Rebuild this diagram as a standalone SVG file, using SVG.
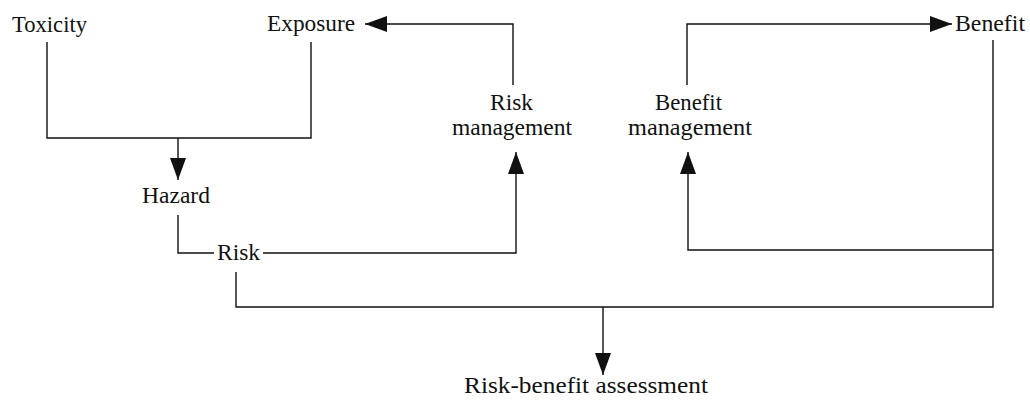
<svg xmlns="http://www.w3.org/2000/svg" width="1030" height="402" viewBox="0 0 1030 402">
<style>
text{font-family:"Liberation Serif","Times New Roman",serif;font-size:23px;fill:#111}
.c{fill:none;stroke:#111;stroke-width:1.4}
.a{marker-end:url(#ah)}
</style>
<defs>
<marker id="ah" markerUnits="userSpaceOnUse" viewBox="0 0 22 16" markerWidth="22" markerHeight="16" refX="22" refY="8" orient="auto">
<path d="M0,0 L22,8 L0,16 z" fill="#111"/>
</marker>
</defs>
<rect width="1030" height="402" fill="#fff"/>
<g id="connectors">
<path class="c" d="M47,42 V138 H311 V42"/>
<path class="c a" d="M178,138 V180"/>
<path class="c" d="M178,215 V253 H214"/>
<path class="c a" d="M263,253 H516 V152"/>
<path class="c a" d="M513,85 V24 H365"/>
<path class="c a" d="M687,85 V24 H952"/>
<path class="c" d="M993,40 V307 H236 V272"/>
<path class="c a" d="M993,250 H688 V152"/>
<path class="c a" d="M603,307 V375"/>
</g>
<g id="toxicity"><text x="12" y="32" textLength="75" lengthAdjust="spacingAndGlyphs">Toxicity</text></g>
<g id="exposure"><text x="267" y="31" textLength="88" lengthAdjust="spacingAndGlyphs">Exposure</text></g>
<g id="hazard"><text x="142" y="203" textLength="68" lengthAdjust="spacingAndGlyphs">Hazard</text></g>
<g id="risk"><text x="217" y="260" textLength="43" lengthAdjust="spacingAndGlyphs">Risk</text></g>
<g id="risk-management"><text x="490" y="110" textLength="43" lengthAdjust="spacingAndGlyphs">Risk</text><text x="452" y="135" textLength="120" lengthAdjust="spacingAndGlyphs">management</text></g>
<g id="benefit-management"><text x="655" y="110" textLength="67" lengthAdjust="spacingAndGlyphs">Benefit</text><text x="628" y="135" textLength="124" lengthAdjust="spacingAndGlyphs">management</text></g>
<g id="benefit"><text x="955" y="31" textLength="70" lengthAdjust="spacingAndGlyphs">Benefit</text></g>
<g id="risk-benefit-assessment"><text x="464" y="393" textLength="244" lengthAdjust="spacingAndGlyphs">Risk-benefit assessment</text></g>
</svg>
